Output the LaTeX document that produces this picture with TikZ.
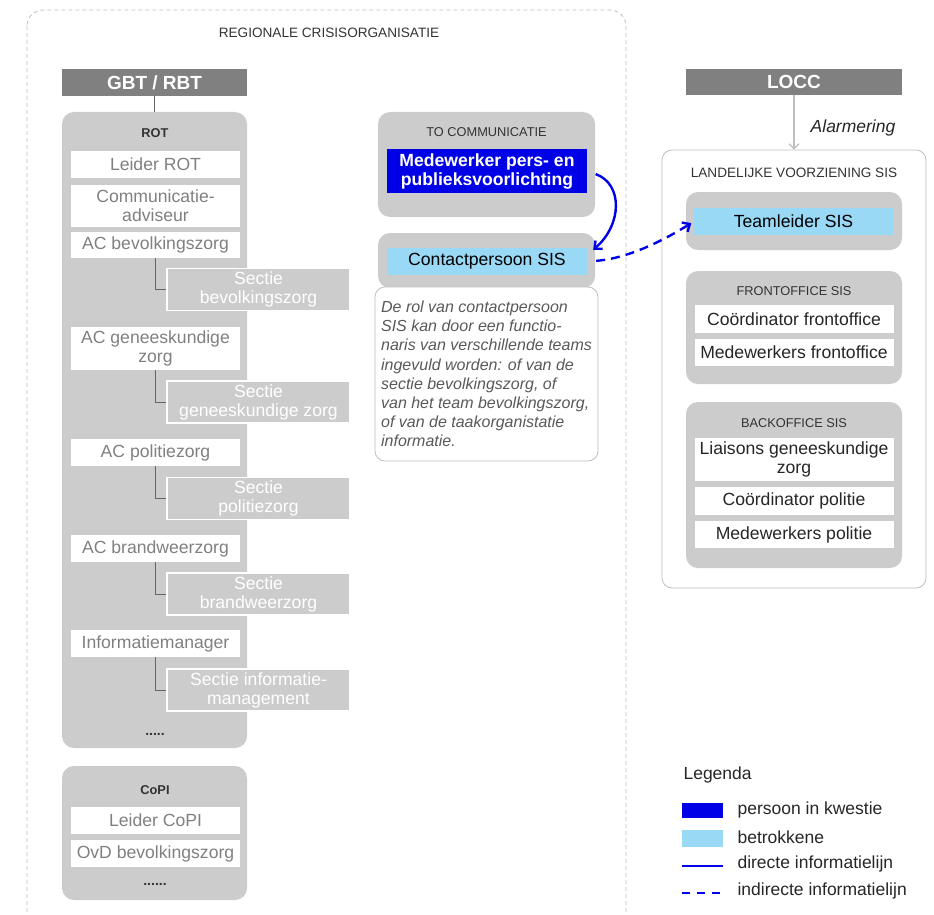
\documentclass[tikz,border=0pt]{standalone}
\usepackage{fontspec}
\setmainfont{Liberation Sans}
\usetikzlibrary{arrows.meta}
\definecolor{boxgray}{RGB}{204,204,204}
\definecolor{headgray}{RGB}{128,128,128}
\definecolor{persblue}{RGB}{0,0,230}
\definecolor{betrblue}{RGB}{153,217,245}
\definecolor{txtgray}{RGB}{128,128,128}
\definecolor{linegray}{RGB}{190,190,190}
\newcommand{\fsrole}{\fontsize{17.6}{19}\selectfont}
\newcommand{\fsteam}{\fontsize{17.6}{19}\selectfont}
\newcommand{\fstitle}{\fontsize{12.8}{14}\selectfont}
\newcommand{\fsbigtitle}{\fontsize{13.6}{15}\selectfont}
\newcommand{\fshead}{\fontsize{19}{21}\selectfont\bfseries}
\newcommand{\fsnote}{\fontsize{16}{19.2}\selectfont\itshape}
\tikzstyle{head} = [fill=headgray, text=white, font=\fshead, inner sep=0pt,
    minimum width=185, minimum height=27]
\tikzstyle{group} = [fill=boxgray, rounded corners=12pt, inner sep=0pt]
\tikzstyle{frame} = [draw=linegray, fill=white, rounded corners=10pt, line width=0.8pt]
\tikzstyle{title} = [font=\fstitle, text=black!80, inner sep=0pt]
\tikzstyle{role} = [fill=white, text=txtgray, font=\fsrole, align=center,
    inner sep=0pt, minimum width=169]
\tikzstyle{sectie} = [fill=boxgray, draw=white, line width=1.2pt, text=white,
    font=\fsrole, align=center, inner sep=0pt, minimum width=183, minimum height=42]
\tikzstyle{member} = [fill=white, text=black!85, font=\fsteam, align=center,
    inner sep=0pt, minimum width=199]
\tikzstyle{link} = [draw=black!60, line width=0.9pt]
\tikzstyle{direct} = [draw=persblue, line width=2.4pt]
\tikzstyle{indirect} = [direct, dash pattern=on 9pt off 6pt]
\tikzstyle{legtext} = [font=\fontsize{17.5}{19}\selectfont, text=black!85, anchor=west]

\begin{document}
\begin{tikzpicture}[x=1pt, y=-1pt, >={Straight Barb[length=6pt,width=11pt]}]
    \useasboundingbox (0,0) rectangle (934,915);

    % regionale crisisorganisatie
    \draw[draw=linegray, line width=0.8pt, dash pattern=on 4pt off 3pt,
        rounded corners=16pt] (27,10) rectangle (626,950);
    \node [title, font=\fsbigtitle] (regtitle) at (329,33) {REGIONALE CRISISORGANISATIE};

    \node [head] (gbt) at (154.5,82.5) {GBT / RBT};
    \node [group, minimum width=185, minimum height=636] (rot) at (154.5,430) {};
    \draw [link] (gbt) -- (rot);
    \node [title, font=\fstitle\bfseries] (rottitle) at (155,133) {ROT};

    \node [role, minimum height=27] (leider) at (155.5,164.5) {Leider ROT};
    \node [role, minimum height=42] (comm) at (155.5,206) {Communicatie-\\adviseur};
    \node [role, minimum height=26] (acbev) at (155.5,245) {AC bevolkingszorg};
    \node [sectie] (secbev) at (258.5,289.5) {Sectie\\bevolkingszorg};
    \node [role, minimum height=43] (acgen) at (155.5,348.5) {AC geneeskundige\\zorg};
    \node [sectie] (secgen) at (258.5,402) {Sectie\\geneeskundige zorg};
    \node [role, minimum height=27] (acpol) at (155.5,452.5) {AC politiezorg};
    \node [sectie] (secpol) at (258.5,498.5) {Sectie\\politiezorg};
    \node [role, minimum height=27] (acbrw) at (155.5,548.5) {AC brandweerzorg};
    \node [sectie] (secbrw) at (258.5,594) {Sectie\\brandweerzorg};
    \node [role, minimum height=27] (infman) at (155.5,643.5) {Informatiemanager};
    \node [sectie] (secinf) at (258.5,690) {Sectie informatie-\\management};
    \node [title, font=\fontsize{14}{15}\selectfont\bfseries] (rotdots) at (155,734) {.....};

    \foreach \ac/\sec in {acbev/secbev, acgen/secgen, acpol/secpol, acbrw/secbrw, infman/secinf}
        \draw [link] (\ac.south) |- (\sec.west);

    % copi
    \node [group, minimum width=185, minimum height=134] (copi) at (154.5,833) {};
    \node [title, font=\fstitle\bfseries] (copititle) at (155,790) {CoPI};
    \node [role, minimum height=27] (leidercopi) at (155.5,820.5) {Leider CoPI};
    \node [role, minimum height=27] (ovd) at (155.5,853.5) {OvD bevolkingszorg};
    \node [title, font=\fontsize{14}{15}\selectfont\bfseries] (copidots) at (155,884) {......};

    % to communicatie
    \node [group, minimum width=217, minimum height=105] (tocomm) at (486.5,164.5) {};
    \node [title] (tocommtitle) at (486.5,132) {TO COMMUNICATIE};
    \node [fill=persblue, text=white, font=\fontsize{17.6}{19}\selectfont\bfseries,
        align=center, inner sep=0pt, minimum width=200, minimum height=44]
        (medew) at (487,171) {Medewerker pers- en\\publieksvoorlichting};

    \node [group, minimum width=217, minimum height=55] (contactbox) at (486.5,260.5) {};
    \node [member, fill=betrblue, text=black, minimum width=200, minimum height=27]
        (contact) at (487,261.5) {Contactpersoon SIS};
    \node [frame, text=black!65, font=\fsnote, align=left, inner sep=0pt,
        minimum width=223, minimum height=174] (note) at (486.5,374)
        {De rol van contactpersoon\\SIS kan door een functio-\\naris van verschillende teams\\
         ingevuld worden: of van de\\sectie bevolkingszorg, of\\van het team bevolkingszorg,\\
         of van de taakorganistatie\\informatie.};

    % landelijke voorziening sis
    \node [head, minimum width=216, minimum height=26] (locc) at (794,82) {LOCC};
    \node [frame, minimum width=264, minimum height=438] (lvsis) at (794,369) {};
    \draw [->, draw=linegray, line width=1.2pt, >={Straight Barb[length=5pt,width=10pt]}]
        (locc) -- (lvsis);
    \node [font=\fontsize{17.5}{19}\selectfont\itshape, text=black!85] (alarm) at (853,128) {Alarmering};
    \node [title, font=\fsbigtitle] (lvtitle) at (794,173) {LANDELIJKE VOORZIENING SIS};

    \node [group, minimum width=216, minimum height=58] (teambox) at (794,221) {};
    \node [member, fill=betrblue, text=black, minimum height=27] (teamleider) at (793.5,221.5) {Teamleider SIS};

    \node [group, minimum width=216, minimum height=113] (front) at (794,327.5) {};
    \node [title] (fronttitle) at (794,291) {FRONTOFFICE SIS};
    \node [member, minimum height=28] (coordf) at (794,319) {Coördinator frontoffice};
    \node [member, minimum height=27] (medf) at (794,352.5) {Medewerkers frontoffice};

    \node [group, minimum width=216, minimum height=166] (back) at (794,485) {};
    \node [title] (backtitle) at (794,423) {BACKOFFICE SIS};
    \node [member, minimum height=43] (liaisons) at (794,459.5) {Liaisons geneeskundige\\zorg};
    \node [member, minimum height=28] (coordp) at (794,501) {Coördinator politie};
    \node [member, minimum height=27] (medp) at (794,534.5) {Medewerkers politie};

    % informatielijnen
    \draw [direct, ->, shorten <=9pt] (medew.east)
        .. controls +(36,13) and +(29,-25) .. ([shift={(6,2)}]contact.north east);
    \draw [indirect, ->, shorten <=9pt, shorten >=3pt] (contact.east)
        .. controls +(40,-3) and +(-32,20) .. (teamleider.west);

    % legenda
    \node [legtext] (legtitle) at (680,775) {Legenda};
    \node [fill=persblue, inner sep=0pt, minimum width=41, minimum height=15] (leg1) at (702.5,810.5) {};
    \node [fill=betrblue, inner sep=0pt, minimum width=41, minimum height=17] (leg2) at (702.5,838.5) {};
    \coordinate (leg3a) at (682,866);
    \coordinate (leg3b) at (723,866);
    \coordinate (leg4a) at (682,893);
    \coordinate (leg4b) at (723,893);
    \draw [direct] (leg3a) -- (leg3b);
    \draw [direct, dash pattern=on 8pt off 7pt] (leg4a) -- (leg4b);
    \node [legtext] (legt1) at (734,810) {persoon in kwestie};
    \node [legtext] (legt2) at (734,837) {betrokkene};
    \node [legtext] (legt3) at (734,864) {directe informatielijn};
    \node [legtext] (legt4) at (734,891) {indirecte informatielijn};
\end{tikzpicture}
\end{document}
